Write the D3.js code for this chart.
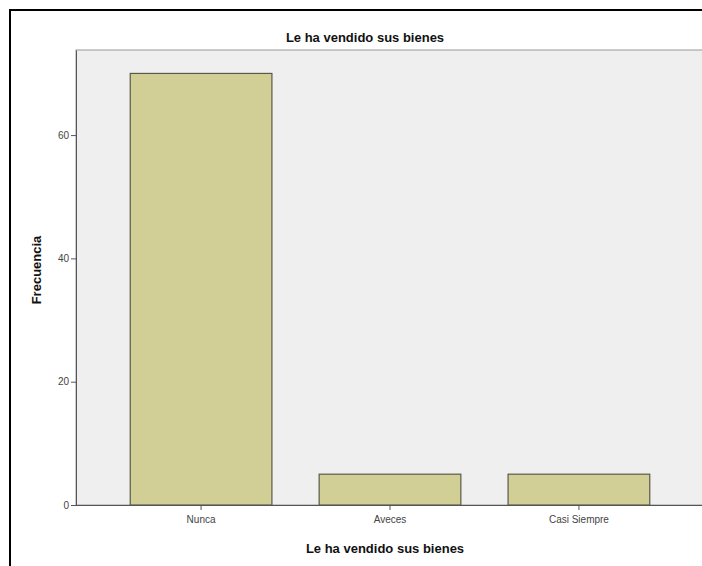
<!DOCTYPE html>
<html><head><meta charset="utf-8">
<script src="https://cdn.jsdelivr.net/npm/d3@7"></script>
<style>body{margin:0;background:#fff;}svg{display:block;}</style>
</head><body>
<svg id="c" width="702" height="566"></svg>
<script>
const categories = ["Nunca", "Aveces", "Casi Siempre"];
const values = [70, 5, 5];
const yTicks = [0, 20, 40, 60];
const title = "Le ha vendido sus bienes";
const xTitle = "Le ha vendido sus bienes";
const yTitle = "Frecuencia";

const svg = d3.select("#c");
// outer frame
svg.append("rect").attr("x", 10).attr("y", 10).attr("width", 720).attr("height", 600)
  .attr("fill", "#fff").attr("stroke", "#000").attr("stroke-width", 2);

const plot = {left: 76, top: 50, right: 702, bottom: 505};
svg.append("rect").attr("x", plot.left).attr("y", plot.top)
  .attr("width", plot.right - plot.left + 5).attr("height", plot.bottom - plot.top)
  .attr("fill", "#efefef").attr("stroke", "#9a9a9a").attr("stroke-width", 1);

const x = d3.scaleBand().domain(categories).range([83, 697]).paddingInner(0.25).paddingOuter(0.25);
const y = d3.scaleLinear().domain([0, 73.8]).range([plot.bottom, plot.top]);

svg.append("g").selectAll("rect").data(values).join("rect")
  .attr("x", (d, i) => x(categories[i]))
  .attr("y", d => y(d))
  .attr("width", x.bandwidth())
  .attr("height", d => y(0) - y(d))
  .attr("fill", "#d2cf96").attr("stroke", "#5a5a4a").attr("stroke-width", 1.2);

const yAxis = svg.append("g").attr("transform", `translate(${plot.left},0)`)
  .call(d3.axisLeft(y).tickValues(yTicks).tickSize(5).tickSizeOuter(0).tickPadding(2).tickFormat(d3.format("d")));
yAxis.select(".domain").attr("stroke", "#555");
yAxis.selectAll(".tick line").attr("stroke", "#555");
yAxis.selectAll("text").attr("fill", "#444").style("font-family", "Arial, 'Liberation Sans', sans-serif").style("font-size", "10px");

const xAxis = svg.append("g").attr("transform", `translate(0,${plot.bottom})`)
  .call(d3.axisBottom(x).tickSize(5).tickPadding(6).tickSizeOuter(0));
xAxis.select(".domain").attr("stroke", "#555").attr("d", `M${plot.left},0.5H${plot.right}`);
xAxis.selectAll(".tick line").attr("stroke", "#555");
xAxis.selectAll("text").attr("fill", "#444").style("font-family", "Arial, 'Liberation Sans', sans-serif").style("font-size", "10px");

svg.append("text").attr("x", 365).attr("y", 42).attr("text-anchor", "middle")
  .style("font-family", "Arial, 'Liberation Sans', sans-serif").style("font-size", "13px").style("font-weight", "bold")
  .attr("fill", "#111").text(title);
svg.append("text").attr("x", 385).attr("y", 553).attr("text-anchor", "middle")
  .style("font-family", "Arial, 'Liberation Sans', sans-serif").style("font-size", "13px").style("font-weight", "bold")
  .attr("fill", "#111").text(xTitle);
svg.append("text").attr("transform", "translate(41,270) rotate(-90)").attr("text-anchor", "middle")
  .style("font-family", "Arial, 'Liberation Sans', sans-serif").style("font-size", "13px").style("font-weight", "bold")
  .attr("fill", "#111").text(yTitle);
</script>
</body></html>
